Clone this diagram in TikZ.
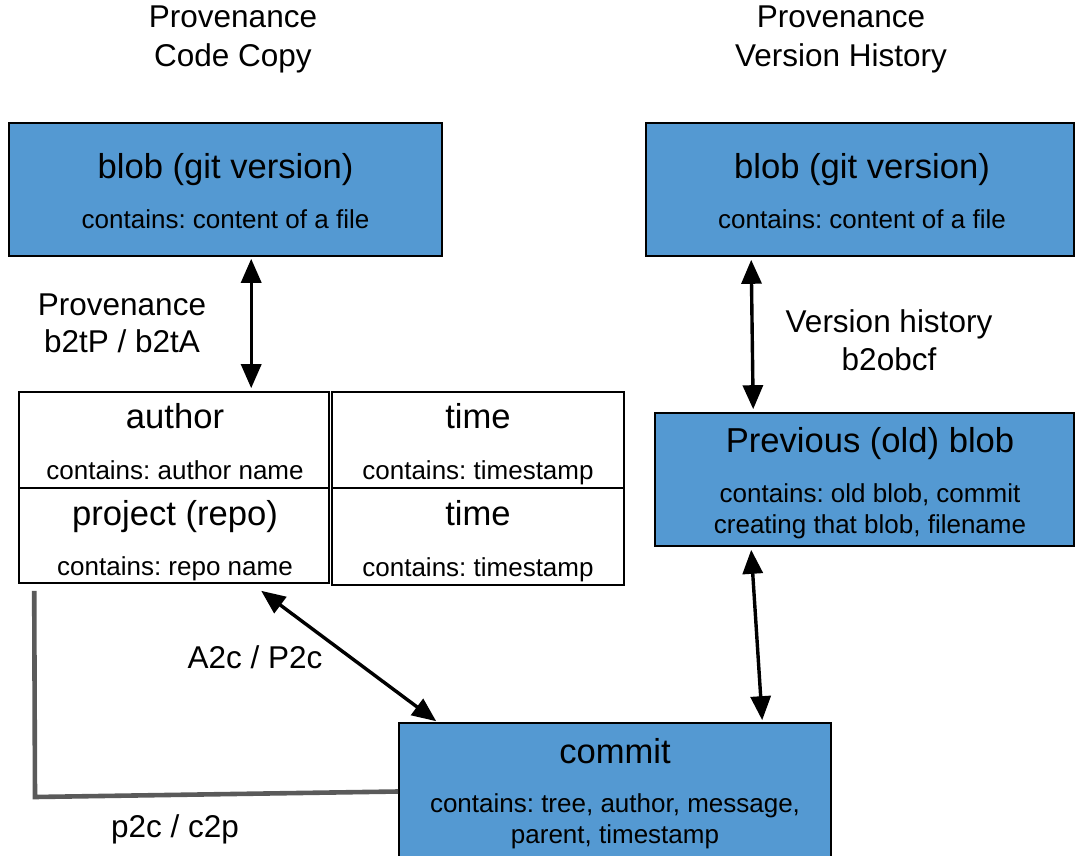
\documentclass[tikz,border=0pt]{standalone}
\usepackage{fontspec}
\setmainfont{Liberation Sans}
\usetikzlibrary{arrows.meta}
\frenchspacing
\definecolor{boxblue}{RGB}{84,153,210}
\definecolor{linegrey}{RGB}{90,90,90}
\tikzset{
  bluebox/.style={draw=black, line width=1.6pt, fill=boxblue, inner sep=0pt},
  whitebox/.style={draw=black, line width=1.6pt, fill=white, inner sep=0pt},
  big/.style={font=\fontsize{34.6}{40}\selectfont, anchor=base, inner sep=0pt},
  small/.style={font=\fontsize{26}{30}\selectfont, anchor=base, inner sep=0pt},
  lbl/.style={font=\fontsize{31.5}{37}\selectfont, anchor=base, inner sep=0pt},
  dbl/.style={line width=3.4pt, {Triangle[length=24pt,width=20pt]}-{Triangle[length=24pt,width=20pt]}},
  greyline/.style={draw=linegrey, line width=4.6pt}
}
\begin{document}
\begin{tikzpicture}[x=1pt,y=-1pt]
\useasboundingbox (0,0) rectangle (1076,856);
% titles
\node[lbl] (t1a) at (233,28) {Provenance};
\node[lbl] (t1b) at (233,67) {Code Copy};
\node[lbl] (t2a) at (841,28) {Provenance};
\node[lbl] (t2b) at (841,67) {Version History};
% boxes
\node[bluebox, minimum width=433pt, minimum height=133pt] (blobL) at (225.5,189.5) {};
\node[bluebox, minimum width=428pt, minimum height=133pt] (blobR) at (860,189.5) {};
\node[whitebox, minimum width=310pt, minimum height=96pt] (author) at (174,440) {};
\node[whitebox, minimum width=292pt, minimum height=96pt] (timeA) at (478,440) {};
\node[whitebox, minimum width=310pt, minimum height=95pt] (project) at (174,535.5) {};
\node[whitebox, minimum width=292pt, minimum height=97pt] (timeB) at (478,536.5) {};
\node[bluebox, minimum width=419pt, minimum height=133pt] (prev) at (864.5,479.5) {};
\node[bluebox, minimum width=432pt, minimum height=137pt] (commit) at (615,791.5) {};
% box texts
\node[big] (blobLt) at (225.5,178) {blob (git version)};
\node[small] (blobLs) at (225.5,228) {contains: content of a file};
\node[big] (blobRt) at (862,178) {blob (git version)};
\node[small] (blobRs) at (862,228) {contains: content of a file};
\node[big] (authort) at (175,428) {author};
\node[small] (authors) at (175,479) {contains: author name};
\node[big] (timeAt) at (478,428) {time};
\node[small] (timeAs) at (478,479) {contains: timestamp};
\node[big] (projectt) at (175,525) {project (repo)};
\node[small] (projects) at (175,575) {contains: repo name};
\node[big] (timeBt) at (478,525) {time};
\node[small] (timeBs) at (478,576) {contains: timestamp};
\node[big] (prevt) at (870,452) {Previous (old) blob};
\node[small] (prevs1) at (870,502) {contains: old blob, commit};
\node[small] (prevs2) at (870,533) {creating that blob, filename};
\node[big] (committ) at (615,763) {commit};
\node[small] (commits1) at (615,812) {contains: tree, author, message,};
\node[small] (commits2) at (615,843) {parent, timestamp};
% labels
\node[lbl] (l1a) at (122,315) {Provenance};
\node[lbl] (l1b) at (122,352) {b2tP / b2tA};
\node[lbl] (l2a) at (889,332) {Version history};
\node[lbl] (l2b) at (889,370) {b2obcf};
\node[lbl] (l3) at (255,668) {A2c / P2c};
\node[lbl] (l4) at (175,837) {p2c / c2p};
% connectors
\draw[dbl] ([xshift=243pt,yshift=-2pt]blobL.south west) -- ([xshift=233pt,yshift=3pt]author.north west);
\draw[dbl] ([xshift=106pt,yshift=-3pt]blobR.south west) -- ([xshift=99pt,yshift=3pt]prev.north west);
\draw[dbl] ([xshift=97pt,yshift=-3pt]prev.south west) -- ([xshift=364pt,yshift=2pt]commit.north west);
\draw[dbl] ([xshift=243pt,yshift=-7pt]project.south west) -- ([xshift=38pt,yshift=1pt]commit.north west);
\coordinate (gcorner) at (35,797);
\draw[greyline] ([xshift=16pt,yshift=-7pt]project.south west) -- (gcorner) -- (commit.west);
\end{tikzpicture}
\end{document}
